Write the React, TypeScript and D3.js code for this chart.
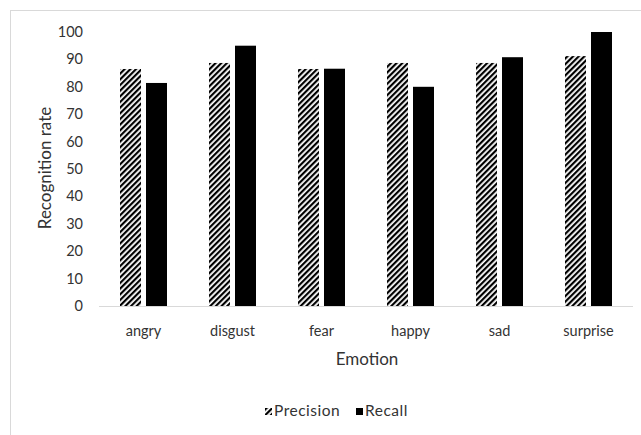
import React from "react";
import * as d3 from "d3";

const categories = ["angry", "disgust", "fear", "happy", "sad", "surprise"];
const precision = [86.5, 88.7, 86.5, 88.7, 88.7, 91.2];
const recall = [81.4, 95, 86.6, 80, 90.8, 100];
const yTicks = [0, 10, 20, 30, 40, 50, 60, 70, 80, 90, 100];
const seriesNames = ["Precision", "Recall"];

const W = 641;
const H = 435;
const left = 99;
const right = 633;
const top = 32;
const bottom = 306;
const font = "Lato, 'Open Sans', sans-serif";

export default function App() {
  const x = d3.scaleBand<string>().domain(categories).range([left, right]);
  const y = d3.scaleLinear().domain([0, 100]).range([bottom, top]);
  const barW = 21;
  const gap = 5;
  const step = x.bandwidth();
  return (
    <svg width={W} height={H} style={{ position: "absolute", left: 0, top: 0 }}>
      <defs>
        <pattern id="hatch" patternUnits="userSpaceOnUse" width="4" height="4" patternTransform="rotate(45)">
          <rect width="4" height="4" fill="white" />
          <rect width="2.2" height="4" fill="black" />
        </pattern>
      </defs>
      <rect x={0} y={0} width={W} height={H} fill="white" />
      <rect x={10.5} y={10.5} width={W + 10} height={H + 10} fill="white" stroke="#d9d9d9" strokeWidth={1} />
      {yTicks.map((t) => (
        <text key={t} x={83} y={y(t)} dy="0.35em" textAnchor="end" fontFamily={font} fontSize={14.5} fill="#333">
          {t}
        </text>
      ))}
      {categories.map((c, i) => {
        const cx = (x(c) as number) + step / 2;
        return (
          <g key={c}>
            <rect x={cx - gap / 2 - barW} y={y(precision[i])} width={barW} height={bottom - y(precision[i])} fill="url(#hatch)" />
            <rect x={cx + gap / 2} y={y(recall[i])} width={barW} height={bottom - y(recall[i])} fill="black" />
            <text x={cx} y={331} dy="0.35em" textAnchor="middle" fontFamily={font} fontSize={14.5} fill="#333">
              {c}
            </text>
          </g>
        );
      })}
      <line x1={left} x2={right} y1={bottom + 0.5} y2={bottom + 0.5} stroke="#d9d9d9" strokeWidth={1} />
      <text x={367} y={359} dy="0.35em" textAnchor="middle" fontFamily={font} fontSize={17} fill="#333">
        Emotion
      </text>
      <text transform={`translate(45,168) rotate(-90)`} textAnchor="middle" dy="0.35em" fontFamily={font} fontSize={17} fill="#333">
        Recognition rate
      </text>
      <g fontFamily={font} fontSize={15.5} fill="#333" letterSpacing={0.5}>
        <rect x={265} y={408} width={7} height={7} fill="url(#hatch)" />
        <text x={274} y={411} dy="0.35em">{seriesNames[0]}</text>
        <rect x={356} y={408} width={7} height={7} fill="black" />
        <text x={365} y={411} dy="0.35em">{seriesNames[1]}</text>
      </g>
    </svg>
  );
}
